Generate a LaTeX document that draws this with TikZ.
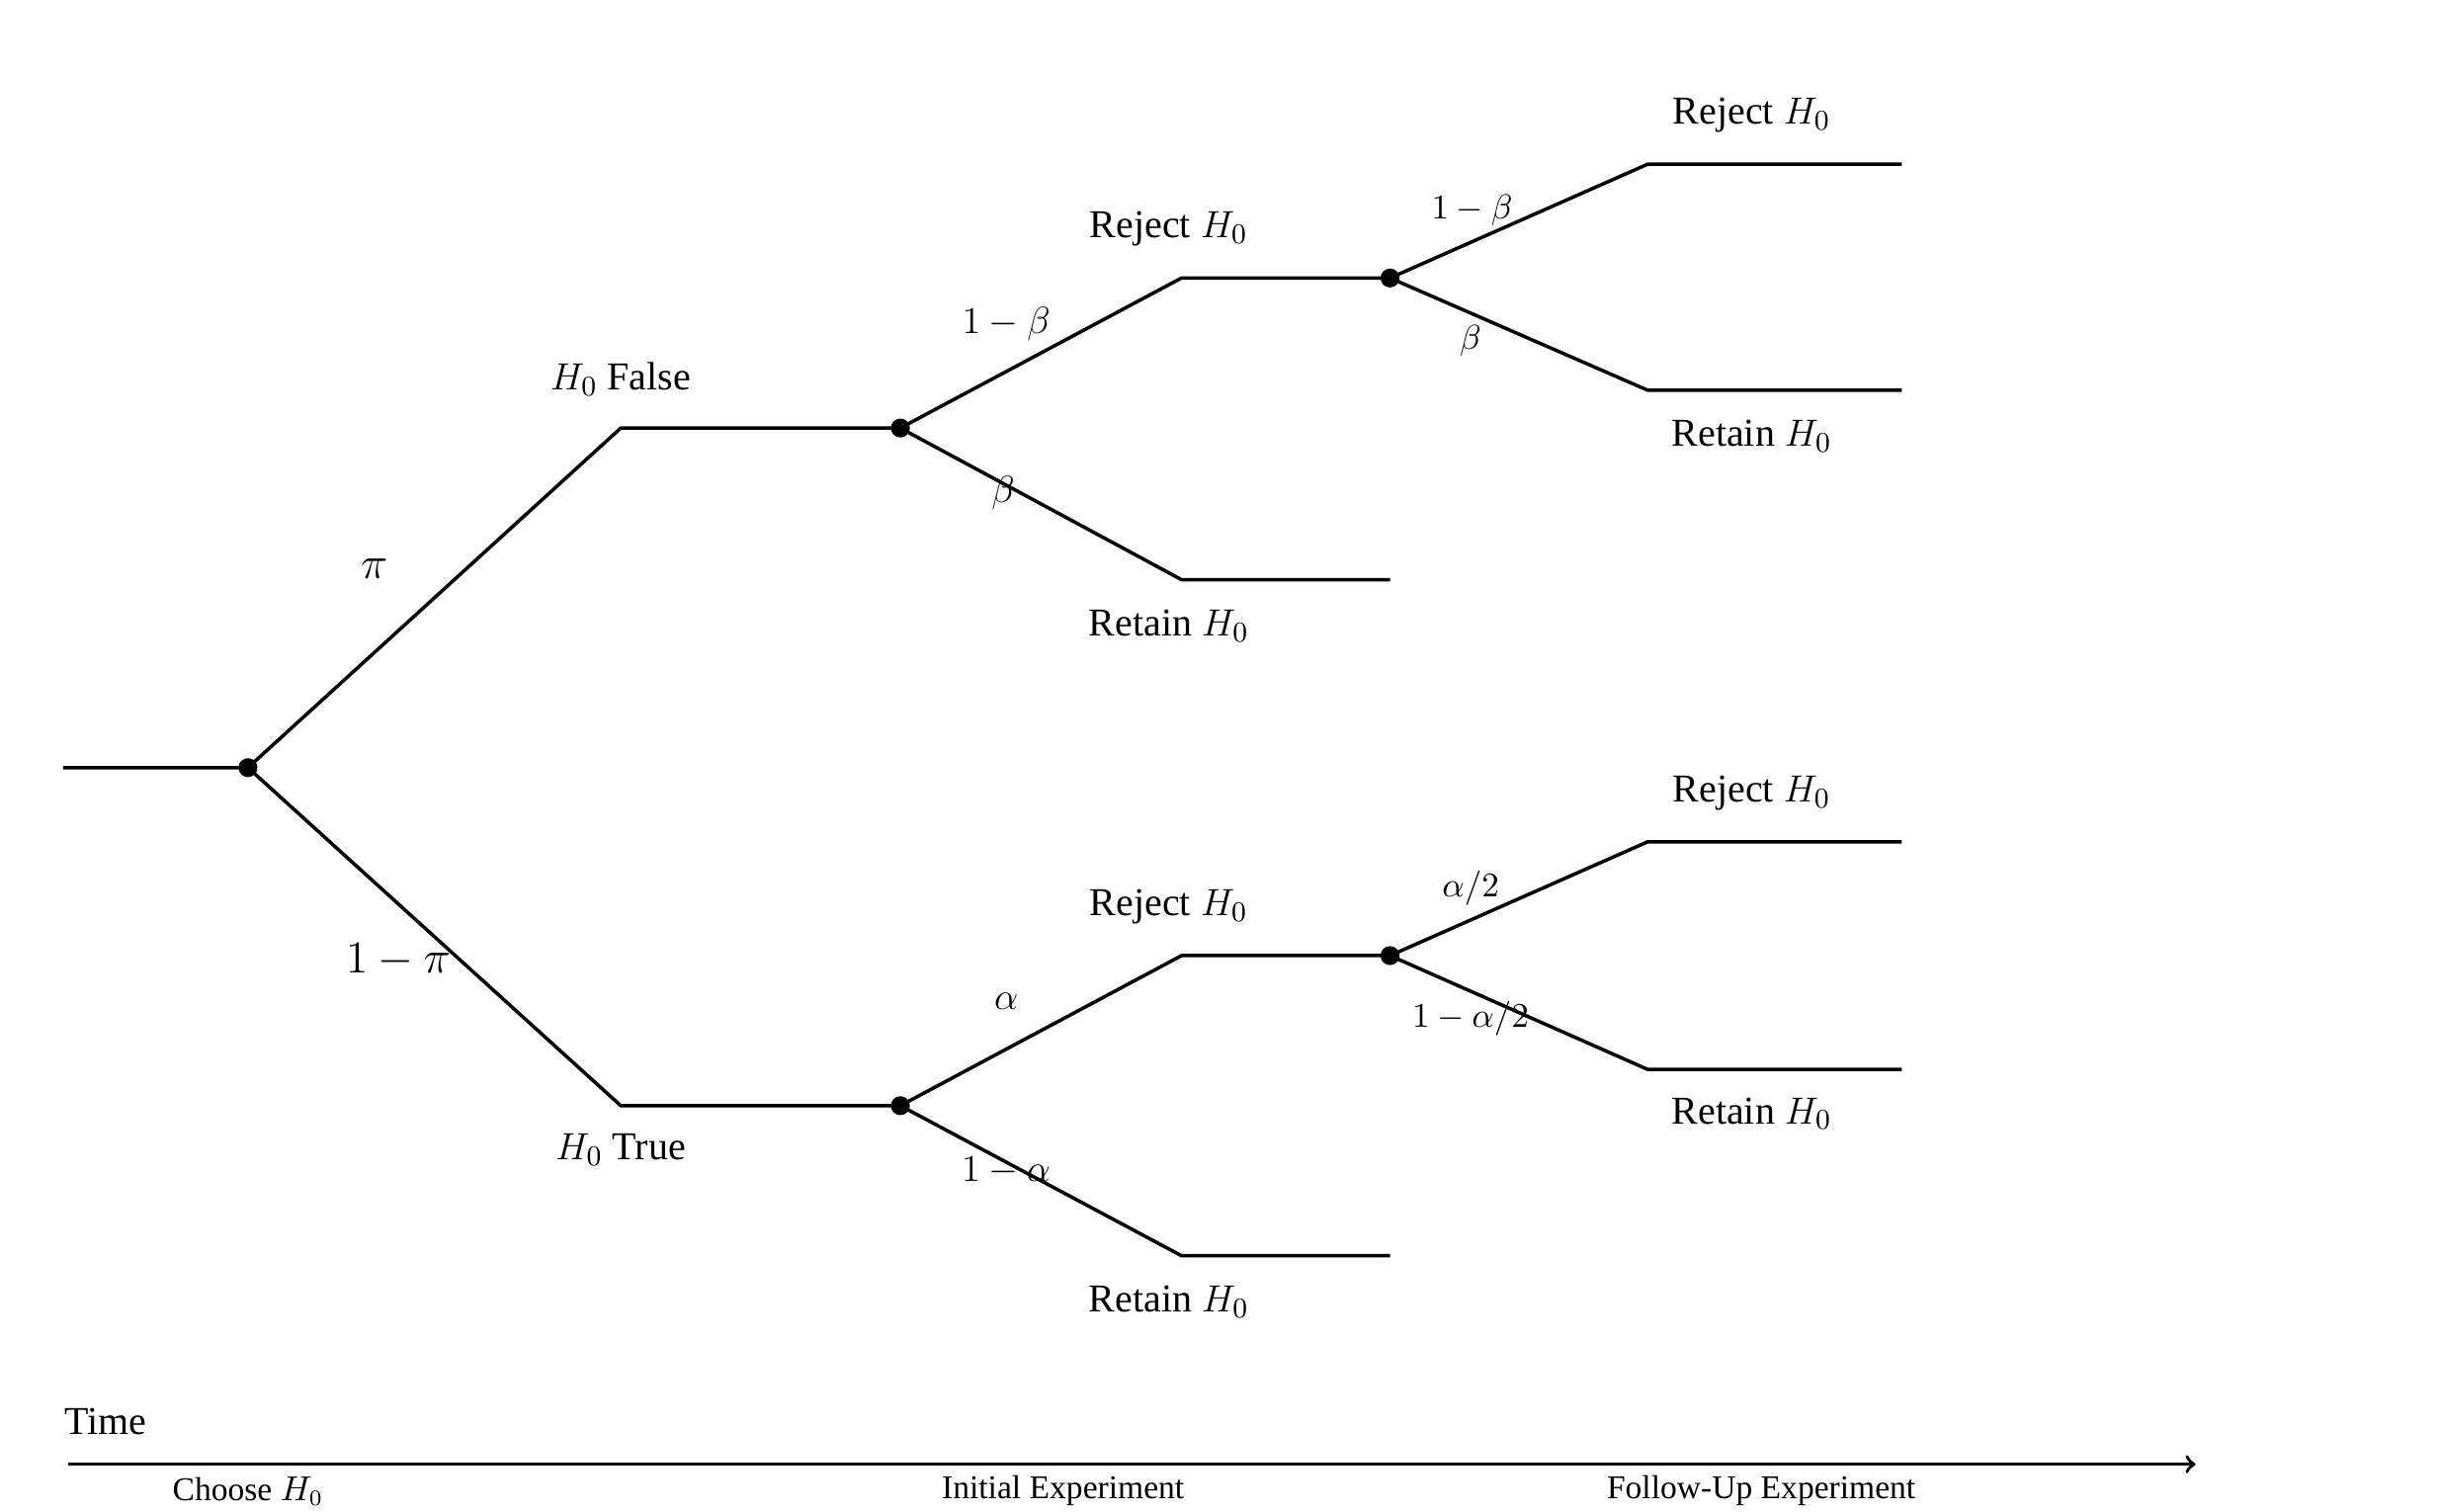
\documentclass[tikz,border=0pt]{standalone}
\usepackage{fontspec}
\setmainfont{Liberation Serif}
\begin{document}
\begin{tikzpicture}[x=0.5pt,y=-0.5pt,line width=1.1pt,
  dot/.style={circle,fill,inner sep=0pt,minimum size=6pt},
  lab/.style={font=\fontsize{12.5}{14}\selectfont,inner sep=0pt},
  prob/.style={font=\fontsize{11}{13}\selectfont,inner sep=0pt},
  tl/.style={font=\fontsize{10.5}{12}\selectfont,inner sep=0pt}]
\useasboundingbox (0,0) rectangle (1546,957);
\coordinate (s) at (40,486);
\node[dot] (r) at (157,486) {};
\coordinate (uf) at (393,271); \node[dot] (u) at (570,271) {};
\coordinate (lf) at (393,700); \node[dot] (l) at (570,700) {};
\draw (s) -- (r.center) -- (uf) -- (u.center);
\draw (r.center) -- (lf) -- (l.center);
% upper
\coordinate (ua) at (748,176); \node[dot] (ud) at (880,176) {};
\coordinate (ub) at (748,367); \coordinate (ube) at (880,367);
\draw (u.center) -- (ua) -- (ud.center);
\draw (u.center) -- (ub) -- (ube);
\coordinate (a1) at (1043,104); \coordinate (a1e) at (1204,104);
\coordinate (a2) at (1043,247); \coordinate (a2e) at (1204,247);
\draw (ud.center) -- (a1) -- (a1e);
\draw (ud.center) -- (a2) -- (a2e);
% lower
\coordinate (la) at (748,605); \node[dot] (ld) at (880,605) {};
\coordinate (lb) at (748,795); \coordinate (lbe) at (880,795);
\draw (l.center) -- (la) -- (ld.center);
\draw (l.center) -- (lb) -- (lbe);
\coordinate (b1) at (1043,533); \coordinate (b1e) at (1204,533);
\coordinate (b2) at (1043,677); \coordinate (b2e) at (1204,677);
\draw (ld.center) -- (b1) -- (b1e);
\draw (ld.center) -- (b2) -- (b2e);
% labels
\node[lab] at (393,240) {$H_0$ False};
\node[lab] at (393,728) {$H_0$ True};
\node[lab,font=\fontsize{14}{16}\selectfont] at (237,360) {$\pi$};
\node[lab,font=\fontsize{14}{16}\selectfont] at (252,608) {$1-\pi$};
\node[lab] at (740,145) {Reject $H_0$};
\node[lab] at (740,396) {Retain $H_0$};
\node[lab] at (740,574) {Reject $H_0$};
\node[lab] at (740,824) {Retain $H_0$};
\node[lab] at (1109,73) {Reject $H_0$};
\node[lab] at (1109,276) {Retain $H_0$};
\node[lab] at (1109,502) {Reject $H_0$};
\node[lab] at (1109,705) {Retain $H_0$};
\node[prob,font=\fontsize{12.5}{14}\selectfont] at (637,205) {$1-\beta$};
\node[prob,font=\fontsize{12.5}{14}\selectfont] at (635,312) {$\beta$};
\node[prob,font=\fontsize{12.5}{14}\selectfont] at (637,634) {$\alpha$};
\node[prob,font=\fontsize{12.5}{14}\selectfont] at (637,741) {$1-\alpha$};
\node[prob] at (932,133) {$1-\beta$};
\node[prob] at (931,216) {$\beta$};
\node[prob] at (931,562) {$\alpha/2$};
\node[prob] at (931,645) {$1-\alpha/2$};
% time axis
\node[lab,anchor=west] (t) at (40,900) {Time};
\coordinate (t0) at (43,927); \coordinate (t1) at (1390,927);
\draw[->] (t0) -- (t1);
\node[tl] at (157,944) {Choose $H_0$};
\node[tl] at (673,944) {Initial Experiment};
\node[tl] at (1115,944) {Follow-Up Experiment};
\end{tikzpicture}
\end{document}
